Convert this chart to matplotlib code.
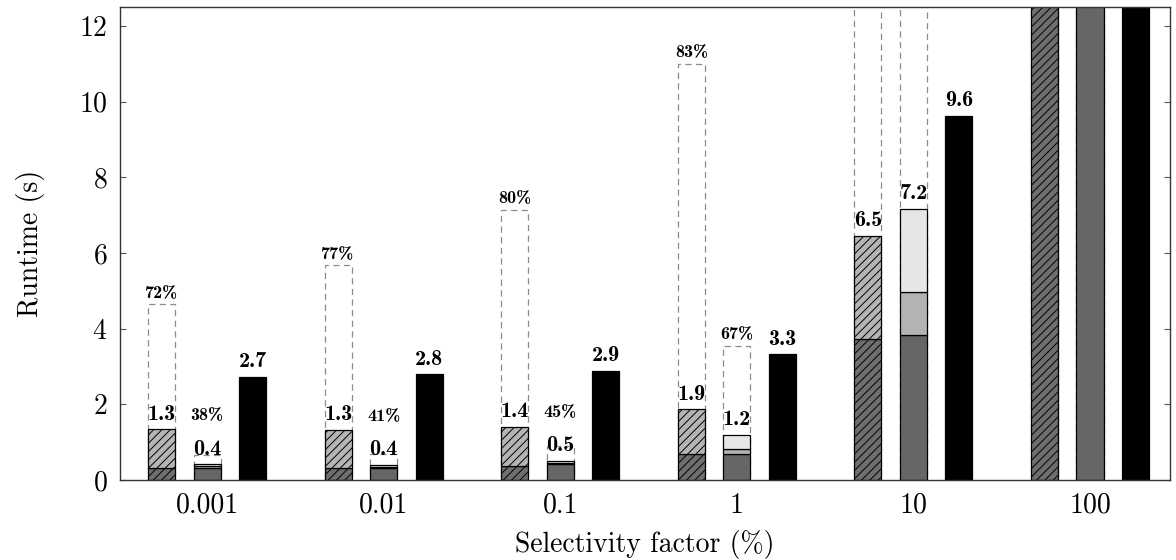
import matplotlib
matplotlib.use('Agg')
import matplotlib.pyplot as plt
import numpy as np

# selectivity groups
groupNames = ['0.001', '0.01', '0.1', '1', '10', '100']

# first bar: hatched stack (dark part, full height) + dashed baseline bar
hatchLow = [0.33, 0.32, 0.37, 0.68, 3.73, 14.0]
hatchTotal = [1.34, 1.33, 1.41, 1.87, 6.45, 20.0]
hatchGhost = [4.64, 5.68, 7.14, 11.0, 16.0, 30.0]
hatchLabels = ['1.3', '1.3', '1.4', '1.9', '6.5', '']
hatchPct = ['72%', '77%', '80%', '83%', '', '']

# second bar: three gray layers (cumulative tops) + dashed baseline bar
grayLow = [0.33, 0.32, 0.42, 0.68, 3.82, 14.0]
grayMid = [0.36, 0.35, 0.45, 0.83, 4.97, 20.0]
grayTotal = [0.41, 0.40, 0.50, 1.19, 7.16, 20.0]
grayGhost = [0.65, 0.68, 0.91, 3.55, 15.0, 30.0]
grayLabels = ['0.4', '0.4', '0.5', '1.2', '7.2', '']
grayPct = ['38%', '41%', '45%', '67%', '', '']

# third bar: black
blackVals = [2.72, 2.79, 2.88, 3.32, 9.62, 20.0]
blackLabels = ['2.7', '2.8', '2.9', '3.3', '9.6', '']

plt.rcParams['font.family'] = 'cmr10'
plt.rcParams['axes.formatter.use_mathtext'] = True
plt.rcParams['hatch.linewidth'] = 0.7

fig = plt.figure(figsize=(11.76, 5.6), dpi=100)
ax = fig.add_axes([120 / 1176, 80 / 560, 1050 / 1176, 473 / 560])

x = np.arange(len(groupNames))
w = 0.153
off = 0.258
lw = 0.9

hatchLow = np.array(hatchLow)
hatchTotal = np.array(hatchTotal)
grayLow = np.array(grayLow)
grayMid = np.array(grayMid)
grayTotal = np.array(grayTotal)

# dashed "before" bars
ax.bar(x - off, hatchGhost, w, fill=False, edgecolor='#8c8c8c', linestyle=(0, (5, 3.5)), linewidth=0.9, zorder=1)
ax.bar(x, grayGhost, w, fill=False, edgecolor='#8c8c8c', linestyle=(0, (5, 3.5)), linewidth=0.9, zorder=1)

# hatched stack
ax.bar(x - off, hatchLow, w, color='#6e6e6e', edgecolor='black', hatch='////', linewidth=lw, zorder=2)
ax.bar(x - off, hatchTotal - hatchLow, w, bottom=hatchLow, color='#b5b5b5', edgecolor='black',
       hatch='////', linewidth=lw, zorder=2)

# gray stack
ax.bar(x, grayLow, w, color='#666666', edgecolor='black', linewidth=lw, zorder=2)
ax.bar(x, grayMid - grayLow, w, bottom=grayLow, color='#b3b3b3', edgecolor='black', linewidth=lw, zorder=2)
ax.bar(x, grayTotal - grayMid, w, bottom=grayMid, color='#e6e6e6', edgecolor='black', linewidth=lw, zorder=2)

# black bars
ax.bar(x + off, blackVals, w, color='black', edgecolor='black', linewidth=lw, zorder=2)

valFont = dict(fontfamily='cmb10', fontsize=16, ha='center', va='baseline')
pctFont = dict(fontfamily='cmb10', fontsize=13, ha='center', va='baseline')

for i in range(len(groupNames)):
    for xpos, top, lab in [(x[i] - off, hatchTotal[i], hatchLabels[i]),
                           (x[i], grayTotal[i], grayLabels[i]),
                           (x[i] + off, blackVals[i], blackLabels[i])]:
        if lab:
            ax.annotate(lab, (xpos, top), xytext=(0, 7), textcoords='offset points',
                        annotation_clip=True, **valFont)
    for xpos, top, ghost, lab in [(x[i] - off, hatchTotal[i], hatchGhost[i], hatchPct[i]),
                                  (x[i], grayTotal[i], grayGhost[i], grayPct[i])]:
        if lab:
            ypos = max(ghost, top + 1.0)
            ax.annotate(lab, (xpos, ypos), xytext=(0, 4.5), textcoords='offset points',
                        annotation_clip=True, **pctFont)

ax.set_xlim(-0.493, 5.453)
ax.set_ylim(0, 12.5)
ax.set_xticks(x)
ax.set_xticklabels(groupNames)
ax.set_yticks(np.arange(0, 13, 2))

ax.tick_params(axis='x', length=0, pad=9, labelsize=20)
ax.tick_params(axis='y', direction='in', length=4, width=0.8, color='#555555',
               right=True, pad=9, labelsize=20)

for s in ax.spines.values():
    s.set_color('#333333')
    s.set_linewidth(1)

ax.set_xlabel('Selectivity factor (%)', fontsize=20, labelpad=8)
ax.set_ylabel('Runtime (s)', fontsize=20, labelpad=24)

fig.savefig('out.png', dpi=100)
